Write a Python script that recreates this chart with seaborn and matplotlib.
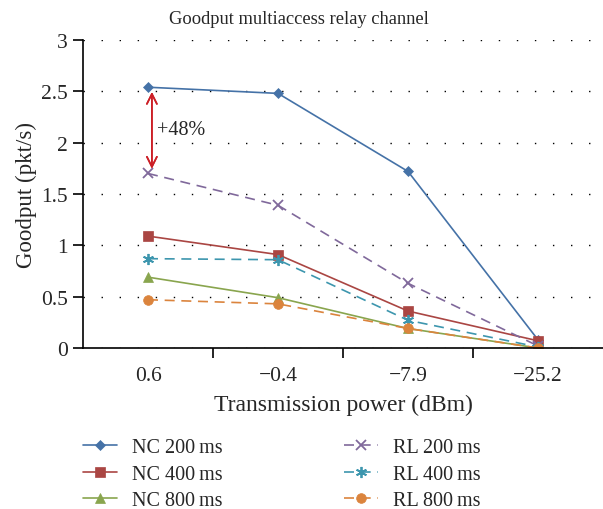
import matplotlib
matplotlib.use("Agg")
import matplotlib.pyplot as plt
import seaborn as sns
import pandas as pd

categories = ["0.6", "\u22120.4", "\u22127.9", "\u221225.2"]
nc200 = [2.54, 2.48, 1.72, 0.08]
nc400 = [1.09, 0.91, 0.36, 0.07]
nc800 = [0.69, 0.49, 0.19, 0.00]
rl200 = [1.70, 1.39, 0.63, 0.02]
rl400 = [0.87, 0.86, 0.27, 0.01]
rl800 = [0.47, 0.43, 0.19, 0.00]
series_names = ["NC 200\u2009ms", "NC 400\u2009ms", "NC 800\u2009ms",
                "RL 200\u2009ms", "RL 400\u2009ms", "RL 800\u2009ms"]
series_vals = [nc200, nc400, nc800, rl200, rl400, rl800]

colors = ["#4572A7", "#AA4643", "#89A54E", "#80699B", "#3D96AE", "#DB843D"]
markers = ["D", "s", "^", "x", (6, 2, 0), "o"]
msizes = [5, 7, 7, 7, 8, 7]
styles = ["-", "-", "-", (0, (6, 4)), (0, (6, 4)), (0, (6, 4))]

sns.set_style("white")
plt.rcParams["font.family"] = ["Liberation Serif", "DejaVu Serif"]

fig = plt.figure(figsize=(6.03, 5.10), dpi=100)
ax = fig.add_axes([83/603, 1-349/510, 1-83/603, (349-41)/510])

handles = []
for i, (name, vals, c, m, ms, ls) in enumerate(zip(series_names, series_vals, colors, markers, msizes, styles)):
    df = pd.DataFrame({"x": categories, "y": vals})
    sns.lineplot(data=df, x="x", y="y", ax=ax, color=c, marker=m, markersize=ms,
                 linestyle=ls, linewidth=1.2, markeredgecolor=c,
                 markeredgewidth=1.3 if i in (3, 4) else 0.5, sort=False)
    handles.append(ax.lines[-1])

ax.set_xlim(-0.5, 3.5)
ax.set_ylim(0, 3)
ax.set_yticks([0, 0.5, 1, 1.5, 2, 2.5, 3])
ax.set_yticklabels(["0", "0.5", "1", "1.5", "2", "2.5", "3"])
ax.yaxis.grid(True, linestyle=(0, (1, 12)), color="black", linewidth=1.0)
ax.xaxis.grid(False)
for s in ["top", "right"]:
    ax.spines[s].set_visible(False)
for s in ["left", "bottom"]:
    ax.spines[s].set_color("black")
    ax.spines[s].set_linewidth(1.2)
ax.tick_params(axis="y", which="major", left=True, length=7, width=1.2, color="black", labelsize=15.5, pad=4)
ax.tick_params(axis="x", which="major", bottom=False, length=0, labelsize=15.5, pad=13)
ax.set_xticks([0.5, 1.5, 2.5], minor=True)
ax.tick_params(axis="x", which="minor", bottom=True, length=7, width=1.2, color="black")

ax.set_xlabel("Transmission power (dBm)", fontsize=17, labelpad=6)
ax.set_ylabel("Goodput (pkt/s)", fontsize=16.5, labelpad=3)
fig.text(0.495, 1-20/510, "Goodput multiaccess relay channel", fontsize=13.3,
         ha="center", va="center")

# annotation arrow
ax.annotate("", xy=(0.03, 2.52), xytext=(0.03, 1.72),
            arrowprops=dict(arrowstyle="<->", color="#CC2027", lw=1.2, mutation_scale=18))
ax.annotate("", xy=(0.03, 1.72), xytext=(0.03, 2.52),
            arrowprops=dict(arrowstyle="<->", color="#CC2027", lw=1.2, mutation_scale=18))
ax.text(0.07, 2.13, "+48%", fontsize=14.5, va="center", ha="left")

leg = fig.legend(handles=handles, labels=series_names, ncol=2, loc="upper left",
                 bbox_to_anchor=(65/603, 1-421/510), frameon=False, fontsize=14.5,
                 handlelength=1.7, columnspacing=6.0, labelspacing=0.37, handletextpad=0.75)

fig.savefig("out.png", dpi=100)
